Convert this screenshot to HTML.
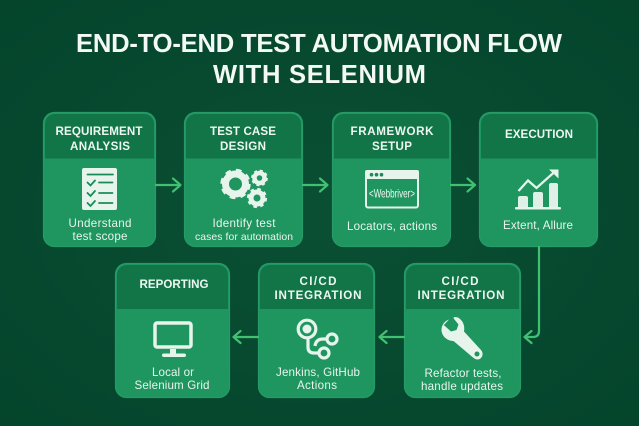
<!DOCTYPE html>
<html><head><meta charset="utf-8"><style>
html,body{margin:0;padding:0;background:#06472e;width:639px;height:426px;overflow:hidden}
svg{display:block}
text{font-family:"Liberation Sans",sans-serif;text-anchor:middle}
.h{font-size:11.6px;font-weight:bold;fill:#eef7f1}
.b{font-size:11.6px;fill:#e9f5ee}
.a{fill:none;stroke:#41c072;stroke-width:2.2;stroke-linecap:round;stroke-linejoin:round}
.i{fill:#e6f4ec}
.s{fill:none;stroke:#e6f4ec}
</style></head><body>
<svg width="639" height="426" viewBox="0 0 639 426" xmlns="http://www.w3.org/2000/svg">
<defs>
<radialGradient id="bg" cx="50%" cy="50%" r="70%"><stop offset="0" stop-color="#0a4f34"/><stop offset="1" stop-color="#04452c"/></radialGradient>
</defs>
<rect width="639" height="426" fill="url(#bg)"/>
<text x="319" y="52" font-size="25.6" font-weight="bold" fill="#f3f9f4" textLength="486" lengthAdjust="spacing">END-TO-END TEST AUTOMATION FLOW</text>
<text x="319.5" y="83" font-size="25.6" font-weight="bold" fill="#f3f9f4" textLength="213" lengthAdjust="spacing">WITH SELENIUM</text>

<!-- cards -->
<g stroke="#279b67" stroke-width="1.2">
<rect x="43.5" y="112.5" width="112" height="134" rx="11" fill="#1f9560"/>
<rect x="184.5" y="112.5" width="118" height="134" rx="11" fill="#1f9560"/>
<rect x="332.5" y="112.5" width="118" height="134" rx="11" fill="#1f9560"/>
<rect x="479.5" y="112.5" width="118" height="134" rx="11" fill="#1f9560"/>
<rect x="115.5" y="263.5" width="114" height="134" rx="11" fill="#1f9560"/>
<rect x="258.5" y="263.5" width="116" height="134" rx="11" fill="#1f9560"/>
<rect x="404.5" y="263.5" width="116" height="134" rx="11" fill="#1f9560"/>
</g>
<g fill="#117548">
<path d="M45 158.500V124a10 10 0 0 1 10-10H144a10 10 0 0 1 10 10v34.500z"/>
<path d="M186 158.500V124a10 10 0 0 1 10-10H291a10 10 0 0 1 10 10v34.500z"/>
<path d="M334 158.500V124a10 10 0 0 1 10-10H439a10 10 0 0 1 10 10v34.500z"/>
<path d="M481 158.500V124a10 10 0 0 1 10-10H586a10 10 0 0 1 10 10v34.500z"/>
<path d="M117 309V275a10 10 0 0 1 10-10H218a10 10 0 0 1 10 10v34z"/>
<path d="M260 309V275a10 10 0 0 1 10-10H363a10 10 0 0 1 10 10v34z"/>
<path d="M406 309V275a10 10 0 0 1 10-10H509a10 10 0 0 1 10 10v34z"/>
</g>

<!-- headers -->
<text class="h" x="99" y="135" textLength="87" lengthAdjust="spacing">REQUIREMENT</text>
<text class="h" x="100" y="150" textLength="60" lengthAdjust="spacing">ANALYSIS</text>
<text class="h" x="243" y="135" textLength="66" lengthAdjust="spacing">TEST CASE</text>
<text class="h" x="243" y="150" textLength="46" lengthAdjust="spacing">DESIGN</text>
<text class="h" x="392" y="135" textLength="83" lengthAdjust="spacing">FRAMEWORK</text>
<text class="h" x="392" y="150" textLength="40" lengthAdjust="spacing">SETUP</text>
<text class="h" x="539" y="138" textLength="68" lengthAdjust="spacing">EXECUTION</text>
<text class="h" x="174" y="288" textLength="69" lengthAdjust="spacing">REPORTING</text>
<text class="h" x="318" y="285" textLength="37" lengthAdjust="spacing">CI/CD</text>
<text class="h" x="318" y="299" textLength="87" lengthAdjust="spacing">INTEGRATION</text>
<text class="h" x="460" y="285" textLength="37" lengthAdjust="spacing">CI/CD</text>
<text class="h" x="461" y="299" textLength="87" lengthAdjust="spacing">INTEGRATION</text>

<!-- bodies -->
<text class="b" x="100" y="227" textLength="63" lengthAdjust="spacing">Understand</text>
<text class="b" x="100" y="240" textLength="55" lengthAdjust="spacing">test scope</text>
<text class="b" x="244" y="227" textLength="63" lengthAdjust="spacing">Identify test</text>
<text class="b" x="244" y="240" style="font-size:10.4px" textLength="98" lengthAdjust="spacing">cases for automation</text>
<text class="b" x="392" y="230" textLength="90" lengthAdjust="spacing">Locators, actions</text>
<text class="b" x="538" y="229" textLength="70" lengthAdjust="spacing">Extent, Allure</text>
<text class="b" x="173" y="376" textLength="42" lengthAdjust="spacing">Local or</text>
<text class="b" x="172" y="389" textLength="75" lengthAdjust="spacing">Selenium Grid</text>
<text class="b" x="318" y="376" textLength="84" lengthAdjust="spacing">Jenkins, GitHub</text>
<text class="b" x="317" y="389" textLength="40" lengthAdjust="spacing">Actions</text>
<text class="b" x="463" y="377" textLength="77" lengthAdjust="spacing">Refactor tests,</text>
<text class="b" x="462" y="390" textLength="82" lengthAdjust="spacing">handle updates</text>

<!-- checklist -->
<rect x="82" y="168" width="35" height="42" rx="2" class="i"/>
<g fill="none" stroke="#1a8a57" stroke-width="1.800" stroke-linecap="round">
<path d="M87.500 174.500H113"/>
<path d="M99 182.500H112.500M99 193H112.500M99 203H112.500"/>
<path d="M87.500 182.500l3 3 4.500-5M87.500 193l3 3 4.500-5M87.500 203l3 3 4.500-5"/>
</g>

<!-- gears -->
<circle cx="235.500" cy="184" r="10" class="s" stroke-width="7"/>
<circle cx="235.500" cy="184" r="13.200" fill="none" stroke="#e6f4ec" stroke-width="4" stroke-dasharray="5.400 4.970"/>
<circle cx="259.500" cy="178" r="5" class="s" stroke-width="4.500"/>
<circle cx="259.500" cy="178" r="7.200" fill="none" stroke="#e6f4ec" stroke-width="2.400" stroke-dasharray="3 2.650"/>
<circle cx="257" cy="198" r="6" class="s" stroke-width="5"/>
<circle cx="257" cy="198" r="8.800" fill="none" stroke="#e6f4ec" stroke-width="2.600" stroke-dasharray="3.500 3.410"/>

<!-- window -->
<rect x="366" y="171" width="52" height="36.500" rx="2" class="s" stroke-width="2"/>
<path d="M365 172a2 2 0 0 1 2-2h50a2 2 0 0 1 2 2v7h-54z" class="i"/>
<g fill="#1a8a57"><circle cx="371.500" cy="174.700" r="1.800"/><circle cx="376.500" cy="174.700" r="1.800"/><circle cx="381.500" cy="174.700" r="1.800"/></g>
<text x="392" y="197.500" font-size="12" fill="#eef7f1" textLength="46" lengthAdjust="spacingAndGlyphs">&lt;Webbriver&gt;</text>

<!-- chart -->
<g>
<path d="M518 198a2 2 0 0 1 2-2h6a2 2 0 0 1 2 2v10h-10z" fill="#dff0e6"/>
<path d="M533 194a2 2 0 0 1 2-2h6a2 2 0 0 1 2 2v14h-10z" fill="#dff0e6"/>
<path d="M549 185a2 2 0 0 1 2-2h5a2 2 0 0 1 2 2v23h-9z" fill="#dff0e6"/>
<rect x="515" y="207" width="46" height="2.500" rx="1" class="i"/>
</g>
<path d="M518.500 191L528 180.500l8.500 7.500L555 171.500" class="s" stroke-width="2.300" stroke-linejoin="miter"/>
<path d="M549 169.500h9.500v9z" class="i"/>

<!-- monitor -->
<rect x="155" y="323" width="36" height="24" rx="2" class="s" stroke-width="3.500"/>
<rect x="170" y="349" width="6" height="7" class="i"/>
<rect x="162" y="353.500" width="24" height="3.500" rx="1.700" class="i"/>

<!-- branch -->
<circle cx="307" cy="329" r="8.800" class="s" stroke-width="3.200"/>
<circle cx="307" cy="329" r="4.500" class="i"/>
<circle cx="332" cy="339" r="5" class="s" stroke-width="3.200"/>
<circle cx="324" cy="353" r="5" class="s" stroke-width="3.200"/>
<path d="M308 339v8q0 6 6 6h5M327 339h-4q-7 0-8 7" class="s" stroke-width="3.200"/>

<!-- wrench -->
<path d="M449 319.500a11 11 0 0 0-7.500 11c.5 6 6 10.500 12 10.500l19.500 16.500c3 2.500 6 2.500 8 .5s2.200-5.500 0-8l-17-18.500c1-6-1-11-6-14l-3-.5c-2 0-1.500 1.500-.5 2.500l4 5-2 5.500-5.500 1.500-5-4.500c-1.500-1.500-3-2.500-3-1z" class="i"/>
<circle cx="477" cy="354" r="2.500" fill="#1f9560"/>

<!-- arrows -->
<g class="a">
<path d="M156 185H180M173 178.500l7.500 6.500-7.500 6.500"/>
<path d="M303 185H327M320 178.500l7.500 6.500-7.500 6.500"/>
<path d="M451 185H474.500M467.500 178.500l7.500 6.500-7.500 6.500"/>
<path d="M539 247V331q0 6-6 6H525M531.500 331l-7 6 7 6"/>
<path d="M404 337H380M386.500 331l-7 6 7 6"/>
<path d="M258 337H234M240.500 331l-7 6 7 6"/>
</g>
</svg>
</body></html>
